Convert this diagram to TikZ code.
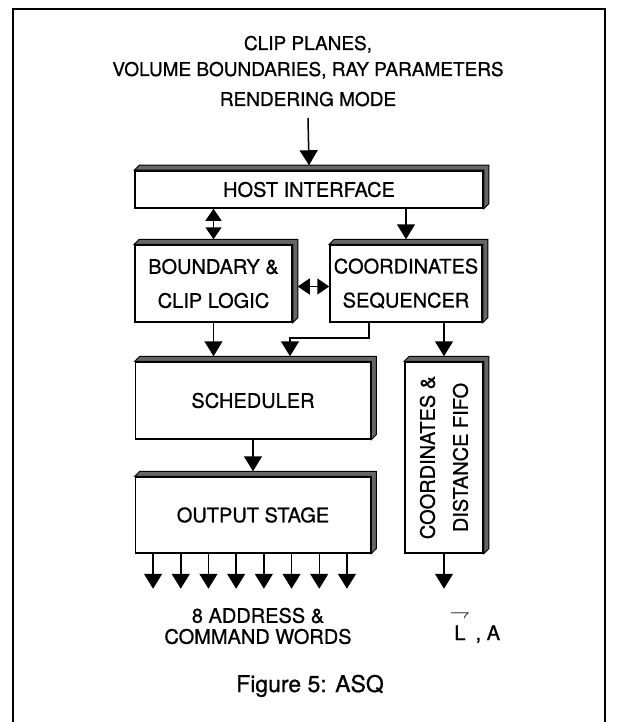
\documentclass[tikz,border=0pt]{standalone}
\usepackage{fontspec}
\setmainfont{TeX Gyre Heros}[FakeBold=0.8]
\usetikzlibrary{arrows.meta}

\begin{document}
\begin{tikzpicture}[x=1pt, y=-1pt, line width=1.5pt,
    every node/.style={font=\fontsize{20}{34}\selectfont, align=center, inner sep=0pt},
    block/.style={draw, minimum width=#1},
    arr/.style={-{Triangle[width=18pt,length=15pt]}},
    dbl/.style={{Triangle[width=16pt,length=12pt]}-{Triangle[width=16pt,length=12pt]}}]
  \useasboundingbox (0,0) rectangle (616,722);
  \draw (13,722) -- (13,9) -- (605,9) -- (605,722);
  % inputs
  \node[anchor=base, font=\fontsize{19}{20}\selectfont] (t1) at (308,50) {CLIP PLANES,};
  \node[anchor=base, font=\fontsize{19}{20}\selectfont] (t2) at (308,76) {VOLUME BOUNDARIES, RAY PARAMETERS};
  \node[anchor=base, font=\fontsize{19}{20}\selectfont] (t3) at (308,106) {RENDERING MODE};
  % blocks (front faces)
  \node[block=348pt, minimum height=37pt] (host) at (309,189.5) {HOST INTERFACE};
  \node[block=157pt, minimum height=77pt] (bound) at (213.5,283.5) {BOUNDARY \&\\CLIP LOGIC};
  \node[block=152pt, minimum height=77pt] (coord) at (406,283.5) {COORDINATES\\SEQUENCER};
  \node[block=235pt, minimum height=77pt] (sched) at (253,400.5) {SCHEDULER};
  \node[block=235pt, minimum height=76pt] (out) at (253,515) {OUTPUT STAGE};
  \node[block=78pt, minimum height=191pt] (fifo) at (444,457.5) {};
  \node[rotate=90, font=\fontsize{20}{33}\selectfont] (fifotxt) at (fifo) {COORDINATES \&\\DISTANCE FIFO};
  % depth faces
  \foreach \b in {host,bound,coord,sched,out,fifo}
    \filldraw[fill=black!60, line width=1pt] (\b.north west) -- ([shift={(5pt,5pt)}]\b.north west)
      -- ([shift={(5pt,5pt)}]\b.north east) -- ([shift={(5pt,5pt)}]\b.south east)
      -- (\b.south east) -- (\b.north east) -- cycle;
  \coordinate (schedtop) at ([yshift=5pt]sched.north);
  \coordinate (schedin) at ([xshift=37pt,yshift=5pt]sched.north);
  % connectors
  \draw[arr] ([yshift=-12pt]t3.base) -- ([yshift=5pt]host.north);
  \draw[dbl] (host.south -| bound) -- ([yshift=5pt]bound.north);
  \draw[arr] (host.south -| coord) -- ([yshift=5pt]coord.north);
  \draw[dbl] ([shift={(5pt,-3pt)}]bound.east) -- ([yshift=-3pt]coord.west);
  \draw[arr] (bound.south) -- (bound.south |- schedtop);
  \draw[arr] ([xshift=-37pt]coord.south) -- ++(0,15) -| (schedin);
  \draw[arr] (coord.south -| fifo) -- ([yshift=5pt]fifo.north);
  \draw[arr] (sched.south) -- ([yshift=5pt]out.north);
  \foreach \i in {0,...,7}
    \draw[arr] ([xshift={(\i-3.5)*27.7-3}]out.south) -- ++(0,35);
  \draw[arr] (fifo.south) -- ++(0,35);
  % outputs
  \node[font=\fontsize{20}{21}\selectfont] (words) at (258,626) {8 ADDRESS \&\\COMMAND WORDS};
  \node[anchor=base west] (la) at (449,640) {$\mathop{\hbox{L}}\limits^{\raise5pt\hbox{$\rightharpoondown$}}$ , A};
  \node[anchor=base, font=\fontsize{23}{28}\selectfont] (cap) at (310,692) {Figure 5: ASQ};
\end{tikzpicture}
\end{document}
